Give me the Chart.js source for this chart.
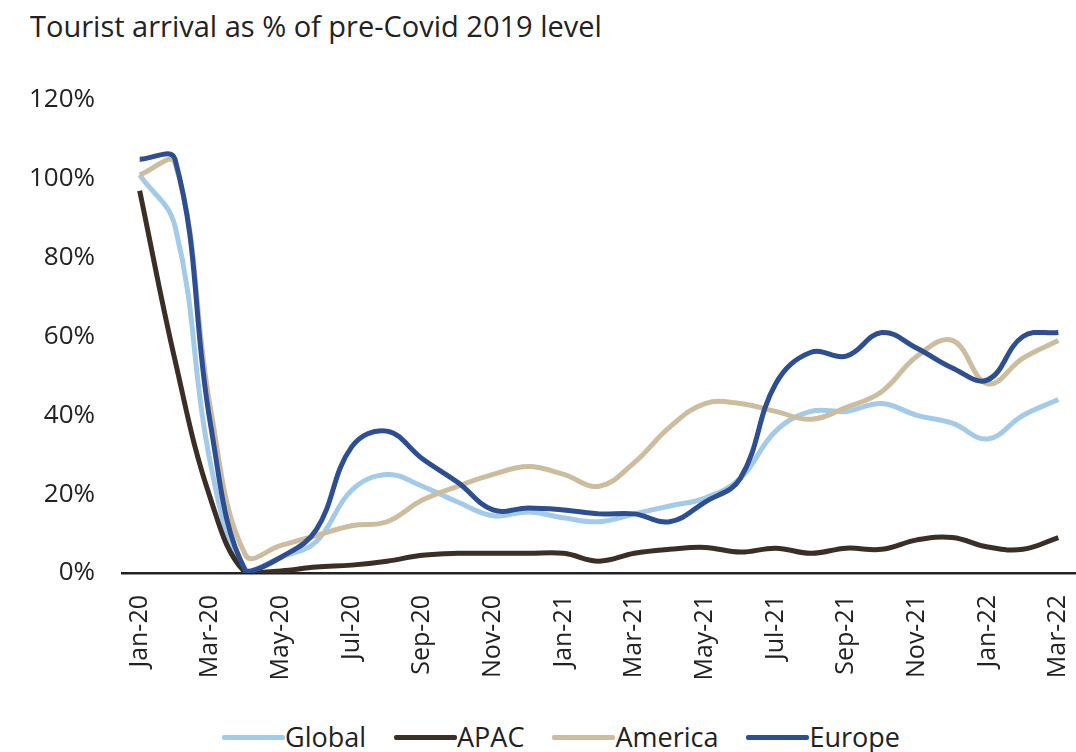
<!DOCTYPE html>
<html>
<head>
<meta charset="utf-8">
<script src="https://cdn.jsdelivr.net/npm/chart.js@4"></script>
<style>
  html, body { margin: 0; padding: 0; background: #fff; }
  body { width: 1076px; height: 752px; position: relative; overflow: hidden; font-family: "Open Sans", sans-serif; color: #222; }
  #titulo { position: absolute; left: 30px; top: 6px; font-size: 29px; }
  #caja { position: absolute; left: 0; top: 0; width: 1076px; height: 700px; }
  #leyenda { position: absolute; left: 222px; top: 718px; display: flex; font-size: 27px; line-height: 38px; }
  .item { display: flex; align-items: center; margin-right: 28px; }
  .linea { width: 63px; height: 5px; border-radius: 2px; }
</style>
</head>
<body>
<div id="titulo">Tourist arrival as % of pre-Covid 2019 level</div>
<div id="caja"><canvas id="grafica"></canvas></div>
<div id="leyenda"></div>
<script>
// Meses (Jan-20 .. Mar-22)
const meses = ['Jan-20','Feb-20','Mar-20','Apr-20','May-20','Jun-20','Jul-20','Aug-20','Sep-20','Oct-20','Nov-20','Dec-20',
  'Jan-21','Feb-21','Mar-21','Apr-21','May-21','Jun-21','Jul-21','Aug-21','Sep-21','Oct-21','Nov-21','Dec-21',
  'Jan-22','Feb-22','Mar-22'];

// Llegadas en % del nivel 2019
const global = [101, 88, 28, 0.5, 4, 8, 21, 25, 22, 18, 14.5, 15.5, 14, 13, 15, 17, 19, 24, 36, 41, 41, 43, 40, 38, 34, 40, 44];
const apac = [97, 54, 19, 0, 0.5, 1.5, 2, 3, 4.5, 5, 5, 5, 5, 3, 5, 6, 6.5, 5.3, 6.3, 5, 6.3, 6, 8.4, 9, 6.6, 6, 9];
const america = [101, 104, 42, 4.5, 7, 9.5, 12, 13, 18.5, 22, 25, 27, 25, 22, 28, 37, 43, 43, 41, 39, 42, 46, 55, 59, 48, 54.5, 59];
const europa = [105, 105, 38, 0.5, 4, 11, 32, 36, 29, 23, 16, 16.5, 16, 15, 15, 13, 18, 24, 48, 56, 55, 61, 57, 52, 49, 60, 61];

const ticksY = [0, 20, 40, 60, 80, 100, 120];

const series = [
  { nombre: 'Global', datos: global, color: '#a3cbe9', orden: 3 },
  { nombre: 'APAC', datos: apac, color: '#3b2e27', orden: 2 },
  { nombre: 'America', datos: america, color: '#cdbd9f', orden: 1 },
  { nombre: 'Europe', datos: europa, color: '#2d4f91', orden: 0 }
];

// Leyenda en HTML: línea pegada al texto
const leyenda = document.getElementById('leyenda');
series.forEach(s => {
  const item = document.createElement('div');
  item.className = 'item';
  const linea = document.createElement('span');
  linea.className = 'linea';
  linea.style.background = s.color;
  const texto = document.createElement('span');
  texto.textContent = s.nombre;
  item.appendChild(linea);
  item.appendChild(texto);
  leyenda.appendChild(item);
});

const fuente = { family: '"Open Sans", sans-serif', size: 26 };

new Chart(document.getElementById('grafica').getContext('2d'), {
  type: 'line',
  data: {
    labels: meses,
    datasets: series.map(s => ({
      label: s.nombre,
      data: s.datos,
      borderColor: s.color,
      backgroundColor: s.color,
      borderWidth: 5,
      pointRadius: 0,
      tension: 0.4,
      fill: false,
      order: s.orden
    }))
  },
  options: {
    responsive: true,
    maintainAspectRatio: false,
    animation: false,
    layout: { padding: { top: 100, right: 0, bottom: 0, left: 0 } },
    plugins: { legend: { display: false }, tooltip: { enabled: false } },
    scales: {
      x: {
        offset: true,
        grid: { display: false, drawTicks: false },
        border: { display: true, color: '#222', width: 2.5 },
        ticks: {
          autoSkip: false,
          minRotation: 90,
          maxRotation: 90,
          padding: 22,
          color: '#222',
          font: { family: '"Open Sans", sans-serif', size: 25 },
          callback: function (v, i) { return i % 2 === 0 ? meses[i] : ''; }
        },
        afterFit: function (scale) {
          scale.height = 127;
          scale.paddingLeft = 0;
          scale.paddingRight = 0;
        }
      },
      y: {
        min: 0,
        max: 120,
        grid: { display: false, drawTicks: false },
        border: { display: false },
        afterBuildTicks: function (scale) { scale.ticks = ticksY.map(v => ({ value: v })); },
        ticks: {
          padding: 27,
          color: '#222',
          font: fuente,
          callback: v => v + '%'
        },
        afterFit: function (scale) { scale.width = 122; }
      }
    }
  }
});
</script>
</body>
</html>
